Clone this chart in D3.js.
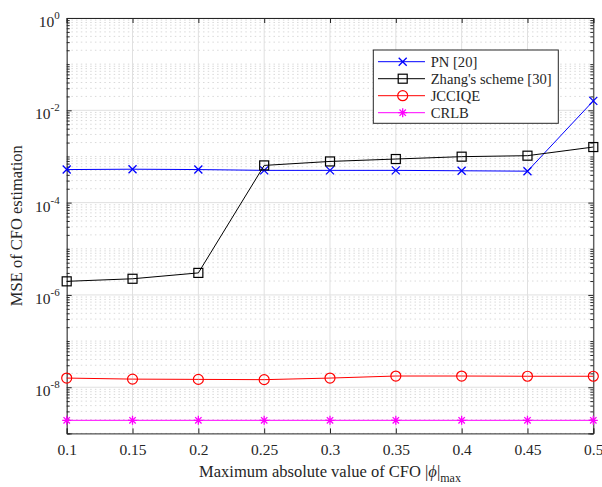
<!DOCTYPE html>
<html>
<head>
<meta charset="utf-8">
<script src="https://cdn.jsdelivr.net/npm/d3@7"></script>
<style>
  body { margin: 0; background: #fff; }
  text { font-family: "Liberation Serif", "Times New Roman", serif; fill: #262626; }
</style>
</head>
<body>
<div id="chart"></div>
<script>
// x values (max absolute CFO)
var cfoMax = [0.1, 0.15, 0.2, 0.25, 0.3, 0.35, 0.4, 0.45, 0.5];

// MSE values
var pnMse     = [5.2e-4, 5.3e-4, 5.2e-4, 5.0e-4, 5.0e-4, 5.0e-4, 4.9e-4, 4.8e-4, 1.6e-2];
var zhangMse  = [1.97e-6, 2.24e-6, 3.0e-6, 6.4e-4, 7.8e-4, 8.8e-4, 9.9e-4, 1.04e-3, 1.6e-3];
var jccMse    = [1.58e-8, 1.5e-8, 1.48e-8, 1.46e-8, 1.58e-8, 1.75e-8, 1.75e-8, 1.73e-8, 1.73e-8];
var crlbMse   = [1.92e-9, 1.92e-9, 1.92e-9, 1.92e-9, 1.92e-9, 1.92e-9, 1.92e-9, 1.92e-9, 1.92e-9];

var xTicks = [0.1, 0.15, 0.2, 0.25, 0.3, 0.35, 0.4, 0.45, 0.5];
var yExps  = [0, -2, -4, -6, -8];

var seriesNames = ["PN [20]", "Zhang's scheme [30]", "JCCIQE", "CRLB"];
var seriesColors = ["#0000ff", "#000000", "#ff0000", "#ff00ff"];
var seriesMarkers = ["cross", "square", "circle", "star"];
var seriesData = [pnMse, zhangMse, jccMse, crlbMse];

var margin = {top: 18, right: 8.7, bottom: 53.6, left: 66.7},
    width = 602 - margin.left - margin.right,
    height = 487 - margin.top - margin.bottom;

var svg = d3.select("#chart")
  .append("svg")
    .attr("width", 602)
    .attr("height", 487)
  .append("g")
    .attr("transform", "translate(" + margin.left + "," + margin.top + ")");

var x = d3.scaleLinear()
  .domain([0.1, 0.5])
  .range([0, width]);

var y = d3.scaleLog()
  .domain([1e-9, 1])
  .range([height, 0]);

// minor ticks on the log axis: n * 10^k, skipping the labelled decades
var minorY = [];
for (var k = -9; k < 0; k++) {
  for (var n = 1; n < 10; n++) {
    var v = n * Math.pow(10, k);
    if (n == 1 && yExps.indexOf(k) >= 0) continue;
    minorY.push(v);
  }
}
var majorY = yExps.map(function(e) { return Math.pow(10, e); });

// grid
svg.append("g").selectAll("line.minor")
  .data(minorY).enter().append("line")
    .attr("x1", 0).attr("x2", width)
    .attr("y1", function(d) { return y(d); })
    .attr("y2", function(d) { return y(d); })
    .attr("stroke", "#d9d9d9")
    .attr("stroke-width", 1)
    .attr("stroke-dasharray", "1.5,3.2");

svg.append("g").selectAll("line.majory")
  .data(majorY).enter().append("line")
    .attr("x1", 0).attr("x2", width)
    .attr("y1", function(d) { return y(d); })
    .attr("y2", function(d) { return y(d); })
    .attr("stroke", "#e0e0e0")
    .attr("stroke-width", 1);

svg.append("g").selectAll("line.majorx")
  .data(xTicks).enter().append("line")
    .attr("x1", function(d) { return x(d); })
    .attr("x2", function(d) { return x(d); })
    .attr("y1", 0).attr("y2", height)
    .attr("stroke", "#e0e0e0")
    .attr("stroke-width", 1);

// axes (MATLAB style: ticks pointing inward, box on)
var axisColor = "#262626";

var xBottom = svg.append("g")
  .attr("transform", "translate(0," + height + ")")
  .call(d3.axisBottom(x).tickValues(xTicks).tickSize(-5).tickPadding(11)
    .tickFormat(function(d) { return d3.format("")(+d.toFixed(2)); }));
var xTop = svg.append("g")
  .call(d3.axisTop(x).tickValues(xTicks).tickSize(-5).tickFormat(""));

var yLeft = svg.append("g")
  .call(d3.axisLeft(y).tickValues(majorY).tickSize(-5).tickFormat(""));
var yRight = svg.append("g")
  .attr("transform", "translate(" + width + ",0)")
  .call(d3.axisRight(y).tickValues(majorY).tickSize(-5).tickFormat(""));

svg.append("g")
  .call(d3.axisLeft(y).tickValues(minorY).tickSize(-3).tickFormat(""))
  .call(function(g) { g.select(".domain").remove(); });
svg.append("g")
  .attr("transform", "translate(" + width + ",0)")
  .call(d3.axisRight(y).tickValues(minorY).tickSize(-3).tickFormat(""))
  .call(function(g) { g.select(".domain").remove(); });

svg.selectAll(".domain").attr("stroke", axisColor);
svg.selectAll(".tick line").attr("stroke", axisColor);

xBottom.attr("font-family", null).attr("font-size", null);
xBottom.selectAll("text")
  .style("font-size", "15.5px")
  .style("font-family", "'Liberation Serif', serif")
  .attr("fill", axisColor);

// y labels as 10^e with superscripts
svg.append("g").selectAll("text.ylab")
  .data(yExps).enter().append("text")
    .attr("x", -7)
    .attr("y", function(d) { return y(Math.pow(10, d)) + 9; })
    .attr("text-anchor", "end")
    .style("font-size", "15.5px")
    .each(function(d) {
      var t = d3.select(this);
      t.append("tspan").text("10");
      t.append("tspan").attr("dy", -8).style("font-size", "11px").text(String(d));
    });

// lines and markers
var line = d3.line()
  .x(function(d, i) { return x(cfoMax[i]); })
  .y(function(d) { return y(d); });

function drawMarker(g, type, color) {
  if (type == "cross") {
    g.append("path").attr("d", "M-4,-4L4,4M-4,4L4,-4")
      .attr("stroke", color).attr("stroke-width", 1.3).attr("fill", "none");
  } else if (type == "square") {
    g.append("rect").attr("x", -4.5).attr("y", -4.5).attr("width", 9).attr("height", 9)
      .attr("stroke", color).attr("stroke-width", 1.2).attr("fill", "none");
  } else if (type == "circle") {
    g.append("circle").attr("r", 5)
      .attr("stroke", color).attr("stroke-width", 1.2).attr("fill", "none");
  } else {
    g.append("path").attr("d", "M-4.5,0L4.5,0M0,-4.5L0,4.5M-3.2,-3.2L3.2,3.2M-3.2,3.2L3.2,-3.2")
      .attr("stroke", color).attr("stroke-width", 1.3).attr("fill", "none");
  }
}

seriesData.forEach(function(vals, s) {
  svg.append("path")
    .datum(vals)
    .attr("d", line)
    .attr("fill", "none")
    .attr("stroke", seriesColors[s])
    .attr("stroke-width", 1);
  vals.forEach(function(v, i) {
    var g = svg.append("g")
      .attr("transform", "translate(" + x(cfoMax[i]) + "," + y(v) + ")");
    drawMarker(g, seriesMarkers[s], seriesColors[s]);
  });
});

// axis titles
svg.append("text")
  .attr("x", width / 2)
  .attr("y", height + 44)
  .attr("text-anchor", "middle")
  .style("font-size", "16.5px")
  .each(function() {
    var t = d3.select(this);
    t.append("tspan").text("Maximum absolute value of CFO |");
    t.append("tspan").style("font-style", "italic").text("ϕ");
    t.append("tspan").text("|");
    t.append("tspan").attr("dy", 5).style("font-size", "12px").text("max");
  });

svg.append("text")
  .attr("transform", "translate(" + (-45) + "," + (height / 2) + ") rotate(-90)")
  .attr("text-anchor", "middle")
  .style("font-size", "16.5px")
  .text("MSE of CFO estimation");

// legend
var lx = 373.3 - margin.left, ly = 50 - margin.top;
var legend = svg.append("g").attr("transform", "translate(" + lx + "," + ly + ")");
legend.append("rect")
  .attr("width", 185).attr("height", 73.3)
  .attr("fill", "#fff").attr("stroke", axisColor).attr("stroke-width", 1);

seriesNames.forEach(function(name, s) {
  var ry = 11.7 + s * 17;
  legend.append("line")
    .attr("x1", 4.7).attr("x2", 51.7).attr("y1", ry).attr("y2", ry)
    .attr("stroke", seriesColors[s]).attr("stroke-width", 1);
  drawMarker(legend.append("g").attr("transform", "translate(29.4," + ry + ")"),
    seriesMarkers[s], seriesColors[s]);
  legend.append("text")
    .attr("x", 57.4).attr("y", ry + 5)
    .style("font-size", "14.6px")
    .text(name);
});
</script>
</body>
</html>
